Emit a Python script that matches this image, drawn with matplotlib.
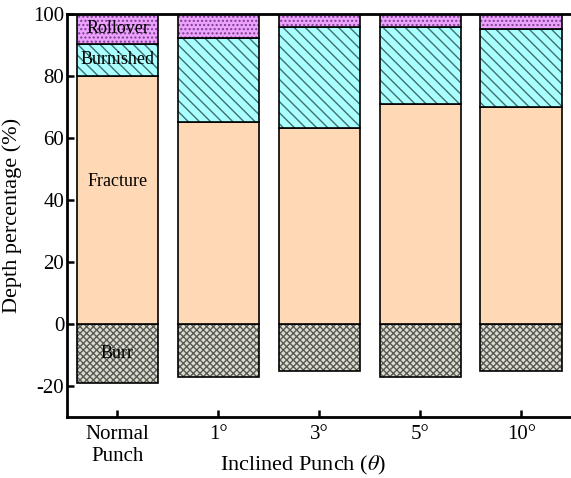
import matplotlib
matplotlib.use('Agg')
import matplotlib.pyplot as plt
import numpy as np

plt.rcParams['font.family'] = ['Liberation Serif', 'DejaVu Serif']
plt.rcParams['mathtext.fontset'] = 'stix'
plt.rcParams['axes.unicode_minus'] = False
plt.rcParams['hatch.linewidth'] = 1.0

# values (percent of sheet depth)
labels = ['Normal\nPunch', '1°', '3°', '5°', '10°']
burr = [-19.0, -17.1, -15.3, -17.2, -15.3]
fracture = [80.0, 65.3, 63.1, 70.9, 70.1]
burnished_top = [90.4, 92.2, 95.7, 95.9, 95.1]
rollover_top = [100, 100, 100, 100, 100]

x = np.arange(len(labels))
burnished = np.array(burnished_top) - np.array(fracture)
rollover = np.array(rollover_top) - np.array(burnished_top)

fig = plt.figure(figsize=(5.71, 4.78), dpi=100)
ax = fig.add_axes([0.1173, 0.1276, 0.8807, 0.8431])

w = 0.81
# (values, bottom, face, hatch, hatch colour)
layers = [
    (burr, 0, '#DCDCD0', 'xxxxx', '#5A5A55'),
    (fracture, 0, '#FFD8B5', None, None),
    (burnished, fracture, '#AAFFFF', '\\\\\\', '#3F6F6F'),
    (rollover, burnished_top, '#EEA2FF', '....', '#7A3F8A'),
]
for vals, bot, face, hatch, hc in layers:
    if hatch:
        ax.bar(x, vals, w, bottom=bot, color=face, hatch=hatch, edgecolor=hc, linewidth=0)
    else:
        ax.bar(x, vals, w, bottom=bot, color=face, linewidth=0)
    ax.bar(x, vals, w, bottom=bot, fill=False, edgecolor='black', linewidth=1.2)

ax.text(0, 95.2, 'Rollover', ha='center', va='center', fontsize=13)
ax.text(0, 85.2, 'Burnished', ha='center', va='center', fontsize=13)
ax.text(0, 46, 'Fracture', ha='center', va='center', fontsize=13)
ax.text(0, -9.5, 'Burr', ha='center', va='center', fontsize=13)

ax.set_xlim(-0.5, 4.48)
ax.set_ylim(-30, 100)
ax.set_yticks([-20, 0, 20, 40, 60, 80, 100])
ax.set_xticks(x)
ax.set_xticklabels(labels)
ax.tick_params(direction='in', width=1.8, length=5, labelsize=15, pad=2)
ax.tick_params(axis='x', pad=6)

ax.spines['right'].set_visible(False)
for s in ['left', 'bottom', 'top']:
    ax.spines[s].set_linewidth(2)

ax.set_ylabel('Depth percentage (%)', fontsize=16)
ax.yaxis.set_label_coords(-0.09, 0.5)
ax.set_xlabel('Inclined Punch ($\\theta$)', fontsize=16)
ax.xaxis.set_label_coords(0.47, -0.092)

fig.savefig('out.png', dpi=100)
